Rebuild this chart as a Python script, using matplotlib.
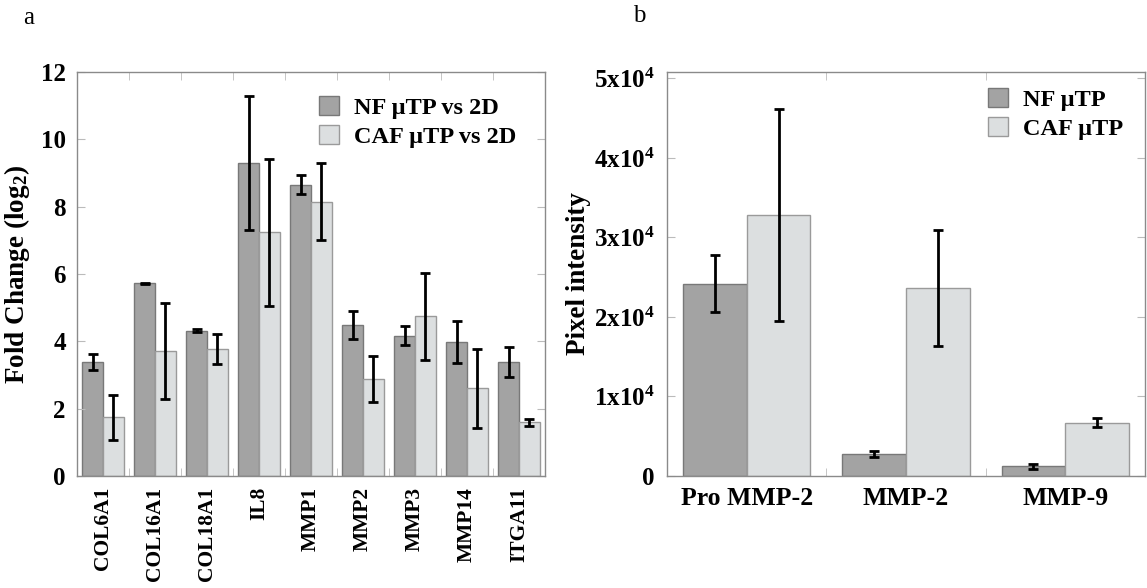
import numpy as np
import matplotlib
matplotlib.use("Agg")
import matplotlib.pyplot as plt
from matplotlib.patches import Patch

# panel a: qPCR fold change
genes = ["COL6A1", "COL16A1", "COL18A1", "IL8", "MMP1", "MMP2", "MMP3", "MMP14", "ITGA11"]
nf_fold = [3.38, 5.72, 4.32, 9.30, 8.65, 4.49, 4.17, 3.97, 3.39]
nf_fold_err = [0.23, 0.02, 0.04, 2.00, 0.28, 0.41, 0.28, 0.62, 0.44]
caf_fold = [1.75, 3.72, 3.77, 7.24, 8.15, 2.88, 4.74, 2.60, 1.60]
caf_fold_err = [0.67, 1.42, 0.45, 2.19, 1.15, 0.67, 1.29, 1.16, 0.10]

# panel b: zymography pixel intensity
bands = ["Pro MMP-2", "MMP-2", "MMP-9"]
nf_pix = [24200, 2800, 1200]
nf_pix_err = [3600, 400, 300]
caf_pix = [32800, 23600, 6700]
caf_pix_err = [13300, 7300, 550]
pix_ticks = [0, 10000, 20000, 30000, 40000, 50000]
pix_ticklabels = ["0"] + [r"$\mathbf{%d}\mathrm{x}\mathbf{10^{4}}$" % i for i in range(1, 6)]

plt.rcParams["font.family"] = ["Liberation Serif", "DejaVu Serif"]
plt.rcParams["font.weight"] = "bold"
plt.rcParams["axes.labelweight"] = "bold"
plt.rcParams["mathtext.fontset"] = "custom"
plt.rcParams["mathtext.rm"] = "Liberation Serif"
plt.rcParams["mathtext.bf"] = "Liberation Serif:bold"
plt.rcParams["mathtext.default"] = "bf"

NF_COLOR = "#a3a3a3"
NF_EDGE = "#787878"
CAF_COLOR = "#dcdfe0"
CAF_EDGE = "#9a9a9a"
SPINE = "#8a8a8a"
W = 0.4

fig = plt.figure(figsize=(11.47, 5.88), dpi=100)
ax1 = fig.add_axes([77 / 1147, 1 - 476 / 588, 468 / 1147, 404 / 588])
ax2 = fig.add_axes([667 / 1147, 1 - 476 / 588, 478 / 1147, 404 / 588])

err_kw = dict(ecolor="black", elinewidth=2, capsize=3.5, capthick=2)
leg_kw = dict(loc="upper right", frameon=False, fontsize=17.5, handlelength=0.85,
              handleheight=0.85, handletextpad=0.6, labelspacing=0.25)


def style_axes(ax, n):
    for s in ax.spines.values():
        s.set_color(SPINE)
        s.set_linewidth(1)
    ax.set_xlim(-0.5, n - 0.5)
    ax.set_xticks(np.arange(n))
    ax.set_xticks(np.arange(n - 1) + 0.5, minor=True)
    ax.tick_params(axis="x", which="major", length=0, pad=8)
    ax.tick_params(axis="x", which="minor", direction="in", length=6,
                   color="#bbbbbb", top=True, bottom=True)
    ax.tick_params(axis="y", direction="in", length=6, color="#bbbbbb",
                   left=True, right=True, labelsize=18, pad=8)


# --- panel a ---
x = np.arange(len(genes))
ax1.bar(x - W / 2, nf_fold, W, color=NF_COLOR, edgecolor=NF_EDGE, linewidth=1,
        yerr=nf_fold_err, error_kw=err_kw)
ax1.bar(x + W / 2, caf_fold, W, color=CAF_COLOR, edgecolor=CAF_EDGE, linewidth=1,
        yerr=caf_fold_err, error_kw=err_kw)
style_axes(ax1, len(genes))
ax1.set_ylim(0, 12)
ax1.set_yticks(range(0, 13, 2))
ax1.set_xticklabels(genes, rotation=90, fontsize=15.5)
ax1.set_ylabel("Fold Change (log$_\\mathrm{2}$)", fontsize=19.5)
ax1.yaxis.set_label_coords(-0.096, 0.5)
ax1.legend(handles=[Patch(facecolor=NF_COLOR, edgecolor=NF_EDGE),
                    Patch(facecolor=CAF_COLOR, edgecolor=CAF_EDGE)],
           labels=["NF \u03bcTP vs 2D", "CAF \u03bcTP vs 2D"],
           bbox_to_anchor=(0.985, 0.995), **leg_kw)

# --- panel b ---
x2 = np.arange(len(bands))
ax2.bar(x2 - W / 2, nf_pix, W, color=NF_COLOR, edgecolor=NF_EDGE, linewidth=1,
        yerr=nf_pix_err, error_kw=err_kw)
ax2.bar(x2 + W / 2, caf_pix, W, color=CAF_COLOR, edgecolor=CAF_EDGE, linewidth=1,
        yerr=caf_pix_err, error_kw=err_kw)
style_axes(ax2, len(bands))
ax2.set_ylim(0, 50800)
ax2.set_yticks(pix_ticks)
ax2.set_yticklabels(pix_ticklabels)
ax2.tick_params(axis="y", pad=9)
ax2.set_xticklabels(bands, fontsize=18.5)
ax2.set_ylabel("Pixel intensity", fontsize=19.5)
ax2.yaxis.set_label_coords(-0.159, 0.5)
ax2.legend(handles=[Patch(facecolor=NF_COLOR, edgecolor=NF_EDGE),
                    Patch(facecolor=CAF_COLOR, edgecolor=CAF_EDGE)],
           labels=["NF \u03bcTP", "CAF \u03bcTP"],
           bbox_to_anchor=(1.0, 1.015), **leg_kw)

fig.text(23 / 1147, 1 - 18 / 588, "a", fontsize=18, fontweight="normal", va="center")
fig.text(633 / 1147, 1 - 16 / 588, "b", fontsize=18, fontweight="normal", va="center")

fig.savefig("out.png", dpi=100)
